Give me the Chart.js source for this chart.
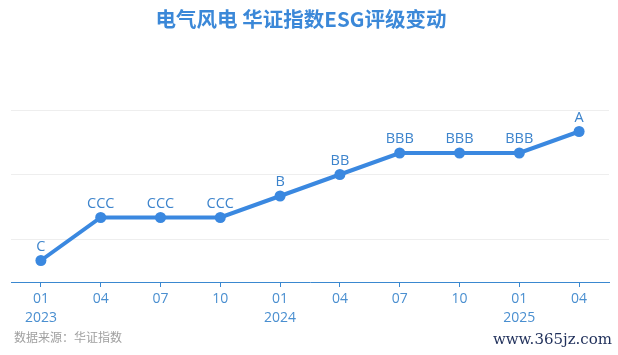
<!DOCTYPE html>
<html><head><meta charset="utf-8">
<script src="https://cdn.jsdelivr.net/npm/chart.js@4"></script>
<style>html,body{margin:0;padding:0;background:#fff}#wrap{width:618px;height:355px;position:relative}</style>
</head><body><div id="wrap"><canvas id="c" width="618" height="355"></canvas></div>
<script>
const months = ["01","04","07","10","01","04","07","10","01","04"];
const years = ["2023","","","","2024","","","","2025",""];
const ratings = ["C","CCC","CCC","CCC","B","BB","BBB","BBB","BBB","A"];
const ratingScale = ["", "C","CC","CCC","B","BB","BBB","A","AA","AAA"];
const values = ratings.map(r => ratingScale.indexOf(r));
const gridValues = [2,5,8];

const titleText = "电气风电 华证指数ESG评级变动";
const sourceText = "数据来源：华证指数";
const watermark = "www.365jz.com";
const blue = "#3a88e0";

const decor = {
  id: "decor",
  afterDatasetsDraw(chart) {
    const ctx = chart.ctx;
    const meta = chart.getDatasetMeta(0);
    ctx.save();
    ctx.font = "14.5px 'Open Sans', 'Noto Sans', sans-serif";
    ctx.fillStyle = "#3d84cc";
    ctx.textAlign = "center";
    ctx.textBaseline = "alphabetic";
    meta.data.forEach((pt, i) => {
      ctx.fillText(ratings[i], pt.x, pt.y - 10);
    });
    ctx.restore();
  },
  afterDraw(chart) {
    const ctx = chart.ctx;
    ctx.save();
    ctx.font = "bold 20.5px 'Noto Sans CJK SC', sans-serif";
    ctx.fillStyle = "#3b88d8";
    ctx.textAlign = "center";
    ctx.textBaseline = "middle";
    ctx.fillText(titleText, 301, 19);
    ctx.font = "12px 'Noto Sans CJK SC', sans-serif";
    ctx.fillStyle = "#a0a0a0";
    ctx.textAlign = "left";
    ctx.fillText(sourceText, 14, 337);
    ctx.font = "15px 'DejaVu Serif', 'Liberation Serif', serif";
    ctx.fillStyle = "#1f2f5a";
    ctx.textAlign = "right";
    ctx.fillText(watermark, 612, 340);
    ctx.restore();
  }
};

new Chart(document.getElementById("c"), {
  type: "line",
  data: {
    labels: months.map((m, i) => [m, years[i]]),
    datasets: [{
      data: values,
      borderColor: blue,
      backgroundColor: blue,
      borderWidth: 4,
      pointRadius: 5.5,
      pointHoverRadius: 5.5,
      pointBackgroundColor: blue,
      pointBorderWidth: 0,
      tension: 0,
      clip: false
    }]
  },
  options: {
    responsive: false,
    animation: false,
    events: [],
    layout: { padding: { top: 110, left: 11, right: 9, bottom: 0 } },
    plugins: { legend: { display: false }, title: { display: false }, tooltip: { enabled: false } },
    scales: {
      x: {
        offset: true,
        grid: { display: true, drawOnChartArea: false, drawTicks: true, tickLength: 5, color: "#3a88d0", offset: false },
        border: { display: true, color: "#3a88d0", width: 1 },
        ticks: { color: "#4a8fd0", font: { size: 14, family: "'Open Sans', 'Noto Sans', sans-serif", lineHeight: 1.36 }, padding: 2, maxRotation: 0, autoSkip: false },
        afterFit(s) { s.height = 73; }
      },
      y: {
        display: true,
        min: 0, max: 8,
        afterBuildTicks(s) { s.ticks = gridValues.map(v => ({ value: v })); },
        grid: { color: "#eeeeee", lineWidth: 1, drawTicks: false },
        border: { display: false },
        ticks: { display: false },
        afterFit(s) { s.width = 0; }
      }
    }
  },
  plugins: [decor]
});
</script></body></html>
